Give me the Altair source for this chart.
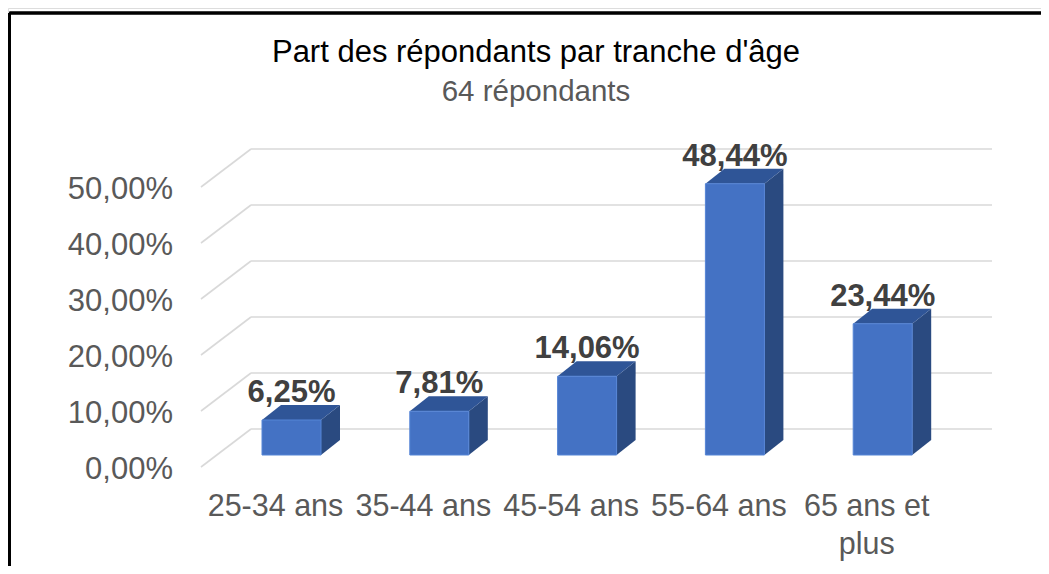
import altair as alt
import pandas as pd

# ---- data ----
categories = ["25-34 ans", "35-44 ans", "45-54 ans", "55-64 ans", "65 ans et\nplus"]
values = [6.25, 7.81, 14.06, 48.44, 23.44]
value_labels = ["6,25%", "7,81%", "14,06%", "48,44%", "23,44%"]
tick_values = [0, 10, 20, 30, 40, 50]
tick_labels = ["0,00%", "10,00%", "20,00%", "30,00%", "40,00%", "50,00%"]

# ---- layout (pixels -> data units) ----
W, H = 1033, 558
PX_X = 147.8          # px per category step
PX_Y = 5.6            # px per percent
X0 = 283.5            # px position of first category
Y0 = 447.0            # px position of 0 % on bar plane
BAR_W = 59 / PX_X
DX = 19 / PX_X        # depth of bars
DY = 15 / PX_Y
WALL_DY = 26 / PX_Y   # back wall above bar plane
FRONT_DY = -12 / PX_Y # front edge below bar plane
WALL_X0 = (243 - X0) / PX_X
WALL_X1 = (984 - X0) / PX_X
FRONT_X0 = (193 - X0) / PX_X

FONT = "Liberation Sans"

x_scale = alt.Scale(domain=[-X0 / PX_X, (W - X0) / PX_X], range=[0, W], zero=False, nice=False)
y_scale = alt.Scale(domain=[-(H - Y0) / PX_Y, Y0 / PX_Y], range=[H, 0], zero=False, nice=False)

bars = pd.DataFrame({
    "idx": list(range(len(categories))),
    "cat": categories,
    "value": values,
    "label": value_labels,
})
bars["xl"] = bars["idx"] - BAR_W / 2
bars["xr"] = bars["idx"] + BAR_W / 2
bars["zero"] = 0.0

side_rows, top_rows = [], []
for i, v in enumerate(values):
    r = i + BAR_W / 2
    l = i - BAR_W / 2
    side_rows.append({"id": i, "x": r, "y": v, "y2": 0.0})
    side_rows.append({"id": i, "x": r + DX, "y": v + DY, "y2": DY})
    top_rows.append({"id": i, "y": v, "x": l, "x2": r})
    top_rows.append({"id": i, "y": v + DY, "x": l + DX, "x2": r + DX})
side = pd.DataFrame(side_rows)
top = pd.DataFrame(top_rows)

grid = pd.DataFrame({"v": tick_values, "label": tick_labels})
grid["yb"] = grid["v"] + WALL_DY
grid["yf"] = grid["v"] + FRONT_DY
grid["xa"] = WALL_X0
grid["xb"] = WALL_X1
grid["xf"] = FRONT_X0

X = lambda f: alt.X(f, scale=x_scale, axis=None)
Y = lambda f: alt.Y(f, scale=y_scale, axis=None)

grid_back = alt.Chart(grid).mark_rule(color="#D9D9D9", strokeWidth=1.6).encode(
    x=X("xa:Q"), x2="xb:Q", y=Y("yb:Q"), y2="yb:Q")
grid_diag = alt.Chart(grid).mark_rule(color="#D9D9D9", strokeWidth=1.6).encode(
    x=X("xf:Q"), x2="xa:Q", y=Y("yf:Q"), y2="yb:Q")

y_labels = alt.Chart(grid).mark_text(
    font=FONT, fontSize=31, color="#595959", align="right", baseline="alphabetic", dx=-28, dy=24
).encode(x=X("xf:Q"), y=Y("v:Q"), text="label:N")

side_face = alt.Chart(side).mark_area(orient="vertical", color="#2A4A80", opacity=1).encode(
    x=X("x:Q"), y=Y("y:Q"), y2="y2:Q", detail="id:N")
top_face = alt.Chart(top).mark_area(orient="horizontal", color="#2F5597", opacity=1).encode(
    y=Y("y:Q"), x=X("x:Q"), x2="x2:Q", detail="id:N")
front_face = alt.Chart(bars).mark_rect(color="#4472C4", stroke="#5585D6", strokeWidth=1).encode(
    x=X("xl:Q"), x2="xr:Q", y=Y("value:Q"), y2="zero:Q")

val_text = alt.Chart(bars).mark_text(
    font=FONT, fontSize=31, fontWeight="bold", color="#404040", baseline="alphabetic", dy=-18
).encode(x=X("idx:Q"), y=Y("value:Q"), text="label:N")

cat_text = alt.Chart(bars).mark_text(
    font=FONT, fontSize=30.5, color="#595959", baseline="alphabetic", dx=-16, dy=61,
    lineBreak="\n", lineHeight=38
).encode(x=X("idx:Q"), y=Y("zero:Q"), text="cat:N")

border_left = alt.Chart(bars).mark_rule(color="#000000", strokeWidth=2.5).encode(
    x=alt.value(1.5), y=alt.value(5), y2=alt.value(H))
border_top = alt.Chart(bars).mark_rule(color="#000000", strokeWidth=2.5).encode(
    y=alt.value(5), x=alt.value(1.5), x2=alt.value(W))

chart = alt.layer(
    grid_back, grid_diag, y_labels, side_face, top_face, front_face, val_text, cat_text,
    border_left, border_top
).properties(
    width=W, height=H,
    title=alt.Title(
        text="Part des répondants par tranche d'âge",
        subtitle="64 répondants",
        font=FONT, fontSize=31, fontWeight="normal", color="#000000",
        subtitleFont=FONT, subtitleFontSize=29.5, subtitleColor="#595959",
        subtitlePadding=9, anchor="middle", frame="group", offset=-99, dx=11.5,
    ),
    autosize=alt.AutoSizeParams(type="none"),
    padding=0,
).configure_view(strokeWidth=0).configure(background="white")

chart.save("out.html", embed_options={"renderer": "svg", "actions": False})
